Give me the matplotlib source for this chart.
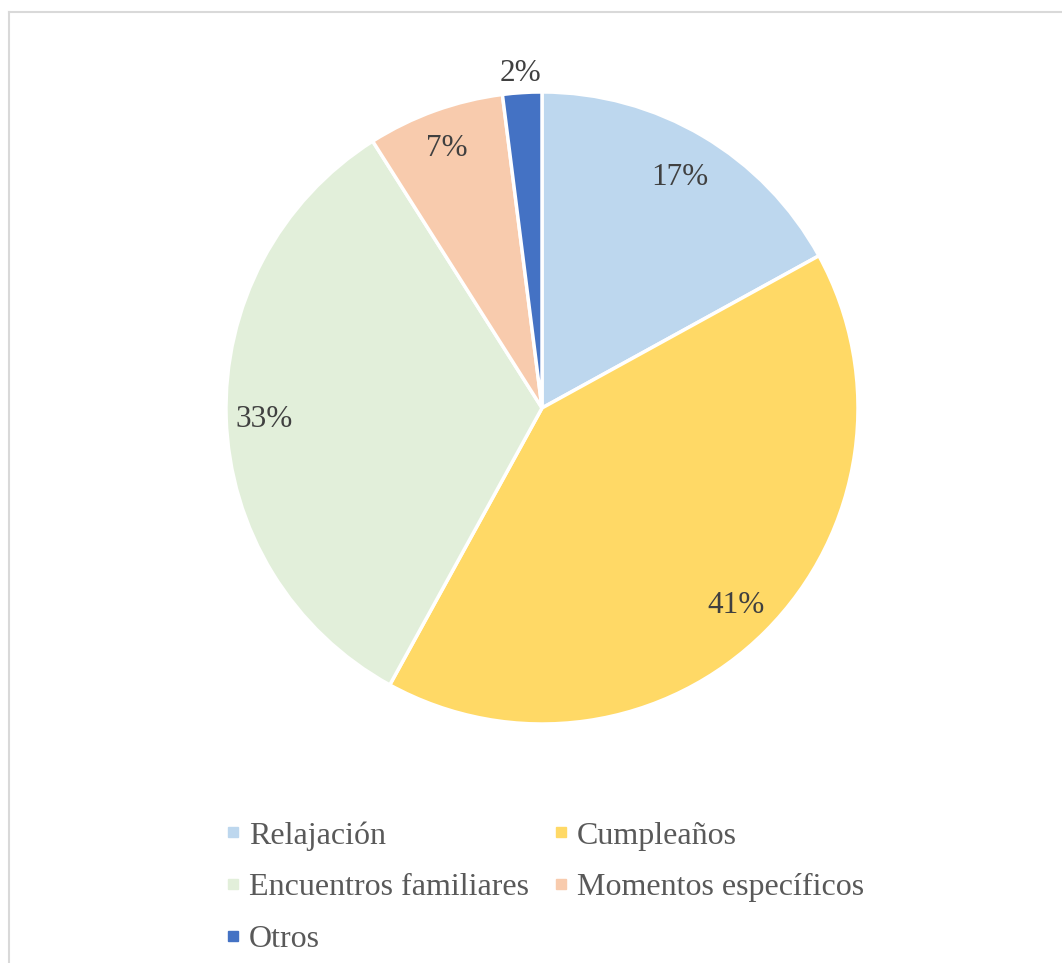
import matplotlib.pyplot as plt
from matplotlib.lines import Line2D
import numpy as np

plt.rcParams['font.family'] = ['Liberation Serif', 'DejaVu Serif']

categories = ['Relajación', 'Cumpleaños', 'Encuentros familiares',
              'Momentos específicos', 'Otros']
values = [17, 41, 33, 7, 2]
colors = ['#BDD7EE', '#FFD966', '#E2EFDA', '#F8CBAD', '#4472C4']
label_dist = [0.86, 0.87, 0.88, 0.885, 1.07]

W, H = 1062, 963
fig = plt.figure(figsize=(W / 100, H / 100), dpi=100)

# pie center and radius in pixels
cx, cy, r = 542, 408, 316
ax = fig.add_axes([(cx - r) / W, (H - cy - r) / H, 2 * r / W, 2 * r / H])
wedges, _ = ax.pie(values, colors=colors, startangle=90, counterclock=False,
                   radius=1, wedgeprops=dict(edgecolor='white', linewidth=2.5))
ax.set_xlim(-1, 1)
ax.set_ylim(-1, 1)
ax.set_aspect('equal')
ax.axis('off')

for w, v, d in zip(wedges, values, label_dist):
    ang = np.deg2rad((w.theta1 + w.theta2) / 2)
    ax.text(d * np.cos(ang), d * np.sin(ang) - 0.01, f'{v}%', ha='center',
            va='center', fontsize=22.5, color='#404040')

# legend filled row by row
order = [0, 2, 4, 1, 3]
handles = [Line2D([], [], marker='s', linestyle='none', markersize=6.8,
                  markerfacecolor=colors[i], markeredgecolor=colors[i])
           for i in order]
fig.legend(handles, [categories[i] for i in order], ncol=2,
           loc='upper left', bbox_to_anchor=(225 / W, 1 - 821 / H),
           frameon=False, fontsize=23, labelcolor='#595959',
           handlelength=0.5, handletextpad=0.25, columnspacing=0.75,
           labelspacing=0.7, borderpad=0, borderaxespad=0)

# chart frame
fig.add_artist(Line2D([8.5 / W, 8.5 / W], [0, 1 - 12.5 / H],
                      color='#D9D9D9', linewidth=1.5, transform=fig.transFigure))
fig.add_artist(Line2D([8.5 / W, 1], [1 - 12.5 / H, 1 - 12.5 / H],
                      color='#D9D9D9', linewidth=1.5, transform=fig.transFigure))

fig.savefig('out.png', dpi=100)
